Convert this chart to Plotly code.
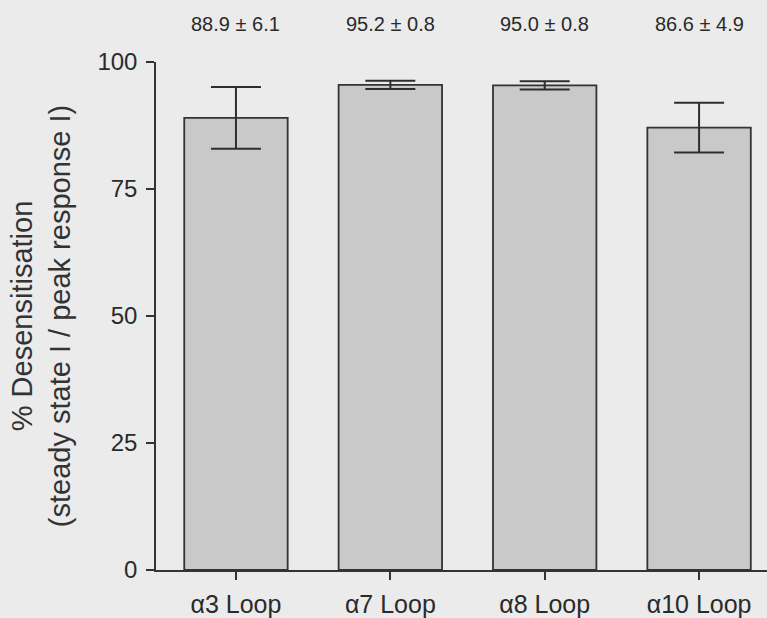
import plotly.graph_objects as go

categories = ["α3 Loop", "α7 Loop", "α8 Loop", "α10 Loop"]
means = [89.0, 95.5, 95.4, 87.1]
errors = [6.1, 0.8, 0.8, 4.9]
labels = ["88.9 ± 6.1", "95.2 ± 0.8", "95.0 ± 0.8", "86.6 ± 4.9"]
y_ticks = [0, 25, 50, 75, 100]

FONT = "Liberation Sans, Arial, Helvetica, sans-serif"
INK = "#2a2a2a"
BG = "#ebebeb"

fig = go.Figure()
fig.add_trace(go.Bar(
    x=categories, y=means, width=0.67,
    marker=dict(color="#c9c9c9", line=dict(color="#333333", width=1.8)),
    error_y=dict(type="data", array=errors, visible=True,
                 color="#2e2e2e", thickness=2, width=25),
    showlegend=False,
))

for c, t in zip(categories, labels):
    fig.add_annotation(x=c, y=1.075, xref="x", yref="paper", text=t,
                       showarrow=False, xanchor="center", yanchor="middle",
                       font=dict(family=FONT, size=20, color=INK))

fig.add_annotation(x=-0.188, y=0.5, xref="paper", yref="paper",
                   text="% Desensitisation<br>(steady state I / peak response I)",
                   textangle=-90, showarrow=False, xanchor="center", yanchor="middle",
                   font=dict(family=FONT, size=29, color="#333333"))

fig.update_layout(
    width=767, height=618,
    margin=dict(l=156, r=0, t=62, b=42),
    paper_bgcolor=BG, plot_bgcolor=BG,
    font=dict(family=FONT, color=INK),
    xaxis=dict(range=[-0.518, 3.44], showline=True, linecolor="#333333", linewidth=1.5,
               ticks="outside", ticklen=8, tickwidth=1.5, tickcolor="#333333",
               showgrid=False, zeroline=False, tickfont=dict(size=25, color=INK),
               ticklabelstandoff=3),
    yaxis=dict(range=[0, 100], tickvals=y_ticks, showline=True, linecolor="#333333",
               linewidth=1.5, ticks="outside", ticklen=8, tickwidth=1.5,
               tickcolor="#333333", showgrid=False, zeroline=False,
               tickfont=dict(size=24, color=INK), ticklabelstandoff=4),
)

fig.write_html("out.html", config={"displayModeBar": False},
               post_script="document.body.style.margin='0px';")
